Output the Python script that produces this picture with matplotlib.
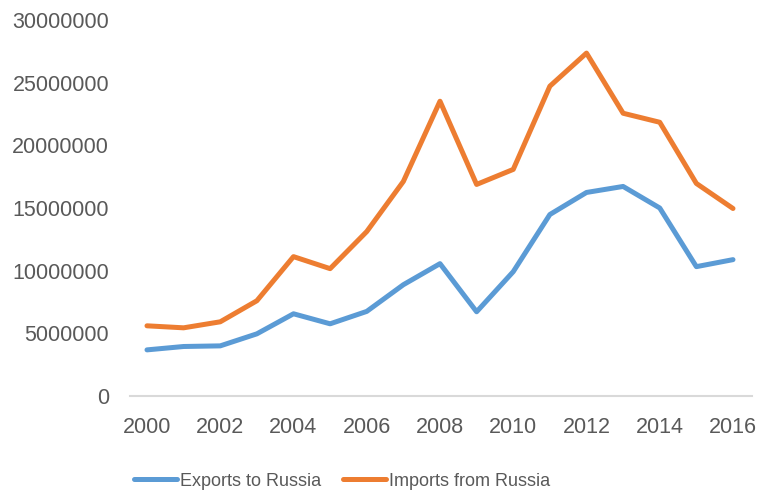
import matplotlib
matplotlib.use('Agg')
import matplotlib.pyplot as plt

years = list(range(2000, 2017))
exports = [3680000, 3950000, 4000000, 4960000, 6560000, 5760000, 6750000, 8880000,
           10560000, 6720000, 9920000, 14480000, 16240000, 16720000, 15000000,
           10320000, 10880000]
imports = [5600000, 5440000, 5920000, 7600000, 11120000, 10160000, 13120000, 17120000,
           23520000, 16880000, 18080000, 24720000, 27360000, 22560000, 21840000,
           16960000, 14960000]
xticks = list(range(2000, 2017, 2))
yticks = list(range(0, 30000001, 5000000))

plt.rcParams['font.family'] = ['Liberation Sans', 'DejaVu Sans']
fig = plt.figure(figsize=(7.6, 4.93), dpi=100)
ax = fig.add_axes([130/760, 97/493, 622/760, 376/493])

ax.plot(years, exports, color='#5B9BD5', lw=3.6, solid_joinstyle='round',
        solid_capstyle='round', label='Exports to Russia')
ax.plot(years, imports, color='#ED7D31', lw=3.6, solid_joinstyle='round',
        solid_capstyle='round', label='Imports from Russia')

ax.set_xlim(1999.536, 2016.519)
ax.set_ylim(0, 30000000)
ax.set_xticks(xticks)
ax.set_yticks(yticks)
ax.set_yticklabels([str(v) for v in yticks])
ax.tick_params(axis='both', length=0, labelsize=15.5, colors='#595959', pad=15)
for s in ['top', 'right', 'left']:
    ax.spines[s].set_visible(False)
ax.spines['bottom'].set_color('#D9D9D9')
ax.spines['bottom'].set_linewidth(1.5)

leg = fig.legend(loc='center', bbox_to_anchor=(342/760, 12/493), ncol=2, frameon=False,
                 fontsize=13, handlelength=2.4, handletextpad=0.15, columnspacing=1.2)
for t in leg.get_texts():
    t.set_color('#595959')

fig.savefig('out.png', dpi=100)
